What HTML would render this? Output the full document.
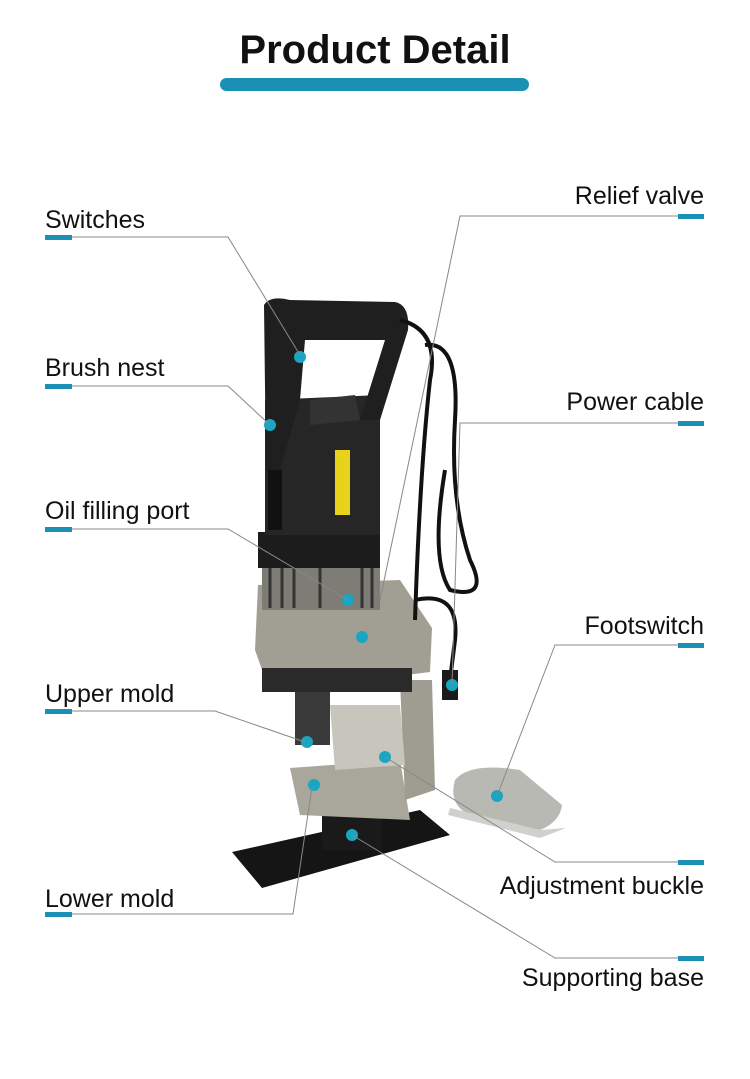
<!DOCTYPE html>
<html><head><meta charset="utf-8"><style>
body{margin:0;background:#fff;}
.w{position:relative;width:750px;height:1079px;overflow:hidden;font-family:"Liberation Sans",Arial,sans-serif;}
.t{position:absolute;font-size:25px;color:#111;white-space:nowrap;}
svg{position:absolute;left:0;top:0;}
</style></head><body><div class="w">
<svg width="750" height="1079" viewBox="0 0 750 1079">
<rect x="220" y="78" width="309" height="13" rx="6.5" fill="#1a90b4"/>
<polygon points="232,852 420,810 450,835 262,888" fill="#151515"/>
<rect x="322" y="775" width="60" height="75" fill="#1a1a1a"/>
<path d="M290 768 L400 760 L410 820 L300 815 Z" fill="#a9a79c"/>
<path d="M400 680 L432 680 L435 790 L405 800 Z" fill="#9f9d92"/>
<rect x="295" y="690" width="35" height="55" fill="#3a3a3a"/>
<path d="M330 705 L400 705 L405 765 L335 770 Z" fill="#c7c6bd"/>
<path d="M258 585 L400 580 L432 628 L430 672 L270 692 L255 650 Z" fill="#a19f94"/>
<rect x="262" y="668" width="150" height="24" fill="#2a2a2a"/>
<rect x="262" y="560" width="118" height="50" fill="#7d7c75"/>
<g stroke="#333" stroke-width="3">
<line x1="270" y1="562" x2="270" y2="608"/><line x1="282" y1="562" x2="282" y2="608"/><line x1="294" y1="562" x2="294" y2="608"/><line x1="320" y1="562" x2="320" y2="608"/><line x1="362" y1="562" x2="362" y2="608"/><line x1="372" y1="562" x2="372" y2="608"/>
</g>
<rect x="258" y="532" width="122" height="36" fill="#1c1c1c"/>
<path d="M265 400 L380 395 L380 535 L265 535 Z" fill="#262626"/>
<rect x="335" y="450" width="15" height="65" fill="#e8d21a"/>
<rect x="268" y="470" width="14" height="60" fill="#111"/>
<path d="M264 305 Q270 295 290 300 L395 302 Q410 305 408 330 L380 420 L360 420 L385 340 L305 340 L300 400 L280 470 L266 470 Z" fill="#1f1f1f"/>
<path d="M310 400 L355 395 L360 420 L310 425 Z" fill="#333"/>
<g fill="none" stroke="#111" stroke-width="4">
<path d="M400 320 Q440 330 430 380 Q420 470 415 620"/>
<path d="M425 345 Q460 340 455 420 Q450 500 470 560 Q490 600 450 590 Q430 560 445 470"/>
<path d="M415 600 Q460 590 455 640 L450 680"/>
</g>
<rect x="442" y="670" width="16" height="30" fill="#1a1a1a"/>
<path d="M455 780 Q470 762 520 770 L562 805 Q560 822 540 830 L470 815 Q448 805 455 780 Z" fill="#b9b9b4"/>
<path d="M450 808 L540 830 L566 828 L540 838 L448 815 Z" fill="#d0d0cc"/>
<g fill="#1aa6c2">
<circle cx="300" cy="357" r="6"/><circle cx="270" cy="425" r="6"/><circle cx="348" cy="600" r="6"/><circle cx="362" cy="637" r="6"/>
<circle cx="307" cy="742" r="6"/><circle cx="314" cy="785" r="6"/><circle cx="385" cy="757" r="6"/><circle cx="452" cy="685" r="6"/><circle cx="497" cy="796" r="6"/><circle cx="352" cy="835" r="6"/>
</g>
<g fill="none" stroke="#888" stroke-width="1">
<polyline points="72,237 228,237 300,355"/>
<polyline points="72,386 228,386 270,425"/>
<polyline points="72,529 228,529 348,600"/>
<polyline points="72,711 215,711 305,742"/>
<polyline points="72,914 293,914 312,787"/>
<polyline points="678,216 460,216 380,600"/>
<polyline points="678,423 460,423 452,685"/>
<polyline points="678,645 555,645 497,796"/>
<polyline points="678,862 555,862 385,757"/>
<polyline points="678,958 555,958 352,835"/>
</g>
<g fill="#1a90b4">
<rect x="45" y="235" width="27" height="5"/><rect x="45" y="384" width="27" height="5"/><rect x="45" y="527" width="27" height="5"/><rect x="45" y="709" width="27" height="5"/><rect x="45" y="912" width="27" height="5"/>
<rect x="678" y="214" width="26" height="5"/><rect x="678" y="421" width="26" height="5"/><rect x="678" y="643" width="26" height="5"/><rect x="678" y="860" width="26" height="5"/><rect x="678" y="956" width="26" height="5"/>
</g>
</svg>
<div class="t" style="left:0;width:750px;text-align:center;top:28px;font-size:40px;font-weight:bold;">Product Detail</div>
<div class="t" style="left:45px;top:206px;">Switches</div>
<div class="t" style="left:45px;top:354px;">Brush nest</div>
<div class="t" style="left:45px;top:497px;">Oil filling port</div>
<div class="t" style="left:45px;top:680px;">Upper mold</div>
<div class="t" style="left:45px;top:885px;">Lower mold</div>
<div class="t" style="right:46px;top:182px;">Relief valve</div>
<div class="t" style="right:46px;top:388px;">Power cable</div>
<div class="t" style="right:46px;top:612px;">Footswitch</div>
<div class="t" style="right:46px;top:872px;">Adjustment buckle</div>
<div class="t" style="right:46px;top:964px;">Supporting base</div>
</div></body></html>
